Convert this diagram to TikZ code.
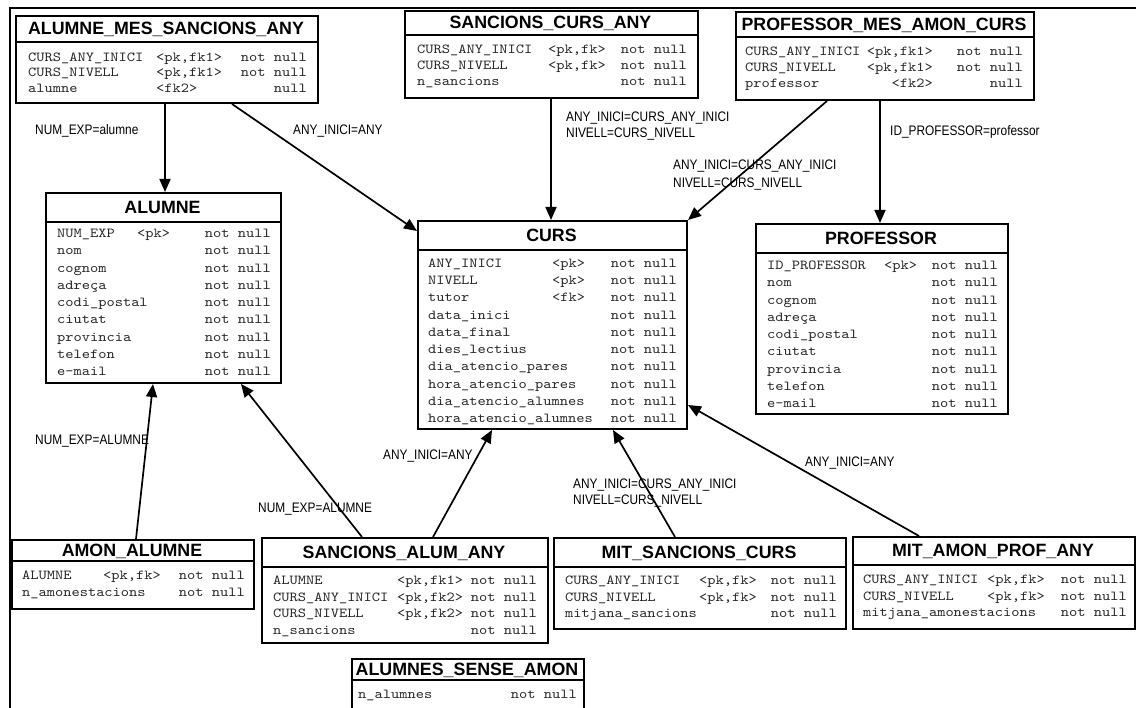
\documentclass[tikz,border=0pt]{standalone}
\usepackage{fontspec}
\setmainfont{Liberation Sans}
\newfontfamily\monof[FakeStretch=1.14]{lmmono10-regular.otf}
\newfontfamily\lblf[FakeStretch=0.86]{Liberation Sans}
\usetikzlibrary{arrows.meta,calc}
\tikzset{
  tbox/.style={draw, line width=2pt, fill=white, rectangle, anchor=north west, inner sep=0pt},
  ttl/.style={font=\bfseries\fontsize{17.8}{20}\selectfont, inner sep=0pt, anchor=base},
  rt/.style={font=\monof\fontsize{13.75}{16}\selectfont, text=black!85, inner sep=0pt},
  lbl/.style={font=\lblf\fontsize{13.8}{15}\selectfont, inner sep=0pt, anchor=base west},
  conn/.style={line width=1.7pt, -{Triangle[length=13pt,width=11pt]}},
  sepline/.style={line width=1.6pt},
}
% table: name, x1, y1, x2, y2, header-line y, title
\newcommand\Tbl[7]{%
  \node[tbox, minimum width={(#4-#2)*1pt}, minimum height={(#5-#3)*1pt}] (#1) at (#2,#3) {};
  \draw[sepline] (#2,#6) -- (#4,#6);
  \node[ttl] (#1-t) at ({(#2+#4)/2},{(#3+#6)/2+6.5}) {#7};
}
% row: id, xname, xkey, key anchor, xright, y, name, key, nullity
\newcommand\Row[9]{%
  \node[rt, anchor=base west] (#1n) at (#2,#6+4.5) {#7};
  \node[rt, anchor=base #4] (#1k) at (#3,#6+4.5) {#8};
  \node[rt, anchor=base east] (#1r) at (#5,#6+4.5) {#9};
}
\begin{document}
\begin{tikzpicture}[x=1pt,y=-1pt]
\useasboundingbox (0,0) rectangle (1136,708);
\clip (0,0) rectangle (1136,708);
\fill[white] (0,0) rectangle (1136,708);
\draw[line width=2pt] (10,712) -- (10,8) -- (1140,8);

% ALUMNE_MES_SANCIONS_ANY
\Tbl{amsa}{15}{15}{317}{102}{42}{ALUMNE\_MES\_SANCIONS\_ANY}
\Row{a1}{28}{156}{west}{307}{57}{CURS\_ANY\_INICI}{<pk,fk1>}{not null}
\Row{a2}{28}{156}{west}{307}{72.5}{CURS\_NIVELL}{<pk,fk1>}{not null}
\Row{a3}{28}{156}{west}{307}{88}{alumne}{<fk2>}{null}

% SANCIONS_CURS_ANY
\Tbl{sca}{404}{10}{697}{97}{35}{SANCIONS\_CURS\_ANY}
\Row{s1}{417}{548}{west}{687}{49}{CURS\_ANY\_INICI}{<pk,fk>}{not null}
\Row{s2}{417}{548}{west}{687}{65}{CURS\_NIVELL}{<pk,fk>}{not null}
\Row{s3}{417}{548}{west}{687}{81}{n\_sancions}{}{not null}

% PROFESSOR_MES_AMON_CURS
\Tbl{pmac}{735}{11}{1033}{99}{37}{PROFESSOR\_MES\_AMON\_CURS}
\Row{p1}{745}{933}{east}{1023}{51}{CURS\_ANY\_INICI}{<pk,fk1>}{not null}
\Row{p2}{745}{933}{east}{1023}{67}{CURS\_NIVELL}{<pk,fk1>}{not null}
\Row{p3}{745}{933}{east}{1023}{83}{professor}{<fk2>}{null}

% ALUMNE
\Tbl{alumne}{45}{192}{280}{382}{222}{ALUMNE}
\Row{al1}{57}{137}{west}{271}{233}{NUM\_EXP}{<pk>}{not null}
\Row{al2}{57}{137}{west}{271}{250.3}{nom}{}{not null}
\Row{al3}{57}{137}{west}{271}{267.6}{cognom}{}{not null}
\Row{al4}{57}{137}{west}{271}{284.9}{adreça}{}{not null}
\Row{al5}{57}{137}{west}{271}{302.2}{codi\_postal}{}{not null}
\Row{al6}{57}{137}{west}{271}{319.5}{ciutat}{}{not null}
\Row{al7}{57}{137}{west}{271}{336.8}{provincia}{}{not null}
\Row{al8}{57}{137}{west}{271}{354.1}{telefon}{}{not null}
\Row{al9}{57}{137}{west}{271}{371.4}{e-mail}{}{not null}

% CURS
\Tbl{curs}{417}{220}{686}{428}{250}{CURS}
\Row{c1}{428}{552}{west}{677}{262.7}{ANY\_INICI}{<pk>}{not null}
\Row{c2}{428}{552}{west}{677}{280}{NIVELL}{<pk>}{not null}
\Row{c3}{428}{552}{west}{677}{297.3}{tutor}{<fk>}{not null}
\Row{c4}{428}{552}{west}{677}{314.6}{data\_inici}{}{not null}
\Row{c5}{428}{552}{west}{677}{331.9}{data\_final}{}{not null}
\Row{c6}{428}{552}{west}{677}{349.2}{dies\_lectius}{}{not null}
\Row{c7}{428}{552}{west}{677}{366.5}{dia\_atencio\_pares}{}{not null}
\Row{c8}{428}{552}{west}{677}{383.8}{hora\_atencio\_pares}{}{not null}
\Row{c9}{428}{552}{west}{677}{401.1}{dia\_atencio\_alumnes}{}{not null}
\Row{c10}{428}{552}{west}{677}{418.4}{hora\_atencio\_alumnes}{}{not null}

% PROFESSOR
\Tbl{prof}{755}{223}{1007}{413}{253}{PROFESSOR}
\Row{pr1}{767}{884}{west}{998}{265}{ID\_PROFESSOR}{<pk>}{not null}
\Row{pr2}{767}{884}{west}{998}{282.3}{nom}{}{not null}
\Row{pr3}{767}{884}{west}{998}{299.6}{cognom}{}{not null}
\Row{pr4}{767}{884}{west}{998}{316.9}{adreça}{}{not null}
\Row{pr5}{767}{884}{west}{998}{334.2}{codi\_postal}{}{not null}
\Row{pr6}{767}{884}{west}{998}{351.5}{ciutat}{}{not null}
\Row{pr7}{767}{884}{west}{998}{368.8}{provincia}{}{not null}
\Row{pr8}{767}{884}{west}{998}{386.1}{telefon}{}{not null}
\Row{pr9}{767}{884}{west}{998}{403.4}{e-mail}{}{not null}

% AMON_ALUMNE
\Tbl{amon}{11}{539}{253}{608}{561}{AMON\_ALUMNE}
\Row{am1}{22}{103}{west}{245}{575}{ALUMNE}{<pk,fk>}{not null}
\Row{am2}{22}{103}{west}{245}{592}{n\_amonestacions}{}{not null}

% SANCIONS_ALUM_ANY
\Tbl{saa}{261}{537}{547}{642}{567}{SANCIONS\_ALUM\_ANY}
\Row{sa1}{273}{397}{west}{537}{580}{ALUMNE}{<pk,fk1>}{not null}
\Row{sa2}{273}{397}{west}{537}{596.7}{CURS\_ANY\_INICI}{<pk,fk2>}{not null}
\Row{sa3}{273}{397}{west}{537}{613.4}{CURS\_NIVELL}{<pk,fk2>}{not null}
\Row{sa4}{273}{397}{west}{537}{630.1}{n\_sancions}{}{not null}

% MIT_SANCIONS_CURS
\Tbl{msc}{553}{537}{845}{628}{567}{MIT\_SANCIONS\_CURS}
\Row{ms1}{565}{699}{west}{837}{580}{CURS\_ANY\_INICI}{<pk,fk>}{not null}
\Row{ms2}{565}{699}{west}{837}{596.5}{CURS\_NIVELL}{<pk,fk>}{not null}
\Row{ms3}{565}{699}{west}{837}{613}{mitjana\_sancions}{}{not null}

% MIT_AMON_PROF_ANY
\Tbl{mapa}{852}{536}{1134}{628}{565}{MIT\_AMON\_PROF\_ANY}
\Row{mp1}{863}{987}{west}{1127}{579}{CURS\_ANY\_INICI}{<pk,fk>}{not null}
\Row{mp2}{863}{987}{west}{1127}{595.5}{CURS\_NIVELL}{<pk,fk>}{not null}
\Row{mp3}{863}{987}{west}{1127}{612}{mitjana\_amonestacions}{}{not null}

% ALUMNES_SENSE_AMON
\Tbl{asa}{351}{658}{583}{725}{680}{ALUMNES\_SENSE\_AMON}
\Row{as1}{358}{450}{west}{577}{694}{n\_alumnes}{}{not null}

% connectors
\draw[conn] ([xshift=150pt]amsa.south west) -- ([xshift=120pt]alumne.north west);
\draw[conn] ([xshift=217pt]amsa.south west) -- ([yshift=-11pt]curs.north west);
\draw[conn] ([xshift=147pt]sca.south west) -- ([xshift=134pt]curs.north west);
\draw[conn] ([xshift=92pt]pmac.south west) -- (curs.north east);
\draw[conn] ([xshift=145pt]pmac.south west) -- ([xshift=125pt]prof.north west);
\draw[conn] ([xshift=125pt]amon.north west) -- ([xshift=108pt]alumne.south west);
\draw[conn] ([xshift=101pt]saa.north west) -- ([xshift=196pt]alumne.south west);
\draw[conn] ([xshift=172pt]saa.north west) -- ([xshift=75pt]curs.south west);
\draw[conn] ([xshift=122pt]msc.north west) -- ([xshift=196pt]curs.south west);
\draw[conn] ([xshift=67pt]mapa.north west) -- ([yshift=-185pt]curs.north east);

% labels
\node[lbl] (l1) at (35,135) {NUM\_EXP=alumne};
\node[lbl] (l2) at (293,135) {ANY\_INICI=ANY};
\node[lbl] (l3a) at (566,122) {ANY\_INICI=CURS\_ANY\_INICI};
\node[lbl] (l3b) at (566,138) {NIVELL=CURS\_NIVELL};
\node[lbl] (l4a) at (673,170) {ANY\_INICI=CURS\_ANY\_INICI};
\node[lbl] (l4b) at (673,188) {NIVELL=CURS\_NIVELL};
\node[lbl] (l5) at (890,136) {ID\_PROFESSOR=professor};
\node[lbl] (l6) at (35,445) {NUM\_EXP=ALUMNE};
\node[lbl] (l7) at (258,513) {NUM\_EXP=ALUMNE};
\node[lbl] (l8) at (383,460) {ANY\_INICI=ANY};
\node[lbl] (l9a) at (573,489) {ANY\_INICI=CURS\_ANY\_INICI};
\node[lbl] (l9b) at (573,505) {NIVELL=CURS\_NIVELL};
\node[lbl] (l10) at (805,467) {ANY\_INICI=ANY};
\end{tikzpicture}
\end{document}
